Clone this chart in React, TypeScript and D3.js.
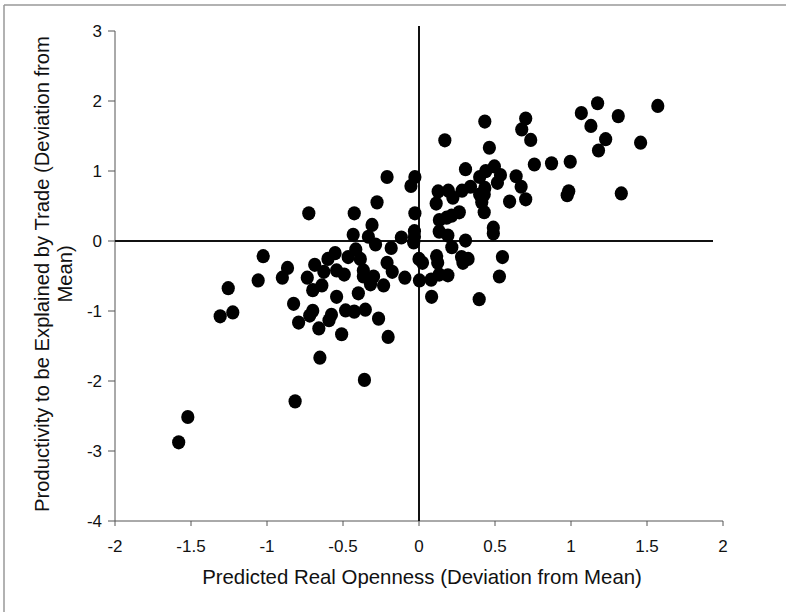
import * as d3 from 'd3';

// Predicted real openness (x) and productivity explained by trade (y), deviations from mean
const openness = [
  1.571, 1.175, 1.068, 1.311, 1.131, 1.228, 1.181, 1.458, 1.331, 0.995,
  0.872, 0.759, 0.702, 0.676, 0.735, 0.433, 0.463, 0.17, 0.985, 0.975,
  0.639, 0.672, 0.702, 0.596, 0.306, 0.496, 0.536, 0.399, 0.439, 0.516,
  0.433, 0.429, 0.339, 0.283, 0.399, 0.413, 0.429, 0.126, 0.193, 0.223,
  0.113, 0.265, 0.215, 0.182, 0.134, 0.133, 0.19, 0.216, 0.306, 0.489,
  0.489, 0.549, 0.529, 0.396, 0.083, 0.003, 0.08, 0.133, 0.19, 0.116,
  0.123, 0.28, 0.323, 0.289, 0.0, 0.023, -0.027, -0.053, -0.027, -0.03,
  -0.03, -0.035, -0.116, -0.093, -0.21, -0.276, -0.309, -0.286, -0.183, -0.433,
  -0.426, -0.725, -0.333, -0.416, -0.466, -0.386, -0.552, -0.599, -0.686, -0.626,
  -0.542, -0.492, -0.366, -0.366, -0.299, -0.319, -0.21, -0.176, -0.233, -1.025,
  -0.865, -0.899, -1.058, -0.735, -0.699, -0.639, -0.542, -0.399, -1.255, -1.225,
  -1.308, -0.825, -0.792, -0.699, -0.719, -0.576, -0.592, -0.659, -0.483, -0.426,
  -0.353, -0.509, -0.266, -0.203, -0.652, -0.359, -0.815, -1.521, -1.581,
];

const productivity = [
  1.929, 1.968, 1.828, 1.784, 1.644, 1.455, 1.293, 1.405, 0.68, 1.132,
  1.109, 1.093, 1.75, 1.594, 1.444, 1.706, 1.332, 1.438, 0.71, 0.655,
  0.925, 0.775, 0.596, 0.563, 1.026, 1.065, 0.942, 0.914, 0.998, 0.831,
  0.758, 0.663, 0.775, 0.719, 0.663, 0.552, 0.412, 0.708, 0.719, 0.619,
  0.535, 0.41, 0.362, 0.333, 0.3, 0.134, 0.078, -0.089, 0.006, 0.19,
  0.106, -0.229, -0.507, -0.831, -0.797, -0.563, -0.552, -0.479, -0.49, -0.217,
  -0.312, -0.229, -0.256, -0.312, -0.256, -0.312, 0.914, 0.786, 0.396, 0.14,
  0.06, -0.02, 0.05, -0.524, 0.914, 0.552, 0.229, -0.05, -0.1, 0.089,
  0.396, 0.396, 0.061, -0.12, -0.229, -0.256, -0.173, -0.256, -0.34, -0.44,
  -0.42, -0.479, -0.42, -0.507, -0.507, -0.619, -0.312, -0.44, -0.635, -0.217,
  -0.385, -0.524, -0.563, -0.524, -0.702, -0.635, -0.797, -0.747, -0.674, -1.02,
  -1.076, -0.897, -1.165, -0.998, -1.065, -1.054, -1.132, -1.249, -0.992, -1.009,
  -0.981, -1.332, -1.109, -1.371, -1.667, -1.984, -2.291, -2.514, -2.876,
];

const xTicks = [-2, -1.5, -1, -0.5, 0, 0.5, 1, 1.5, 2];
const yTicks = [3, 2, 1, 0, -1, -2, -3, -4];

const W = 794;
const H = 612;
const font = '"Liberation Sans", Arial, sans-serif';

export default function App() {
  const x = d3.scaleLinear().domain([-2, 2]).range([115, 723]);
  const y = d3.scaleLinear().domain([-4, 3]).range([521, 31]);
  const points = openness.map((v, i) => [v, productivity[i]]);

  return (
    <svg
      width={W}
      height={H}
      style={{ position: 'absolute', left: 0, top: 0, background: '#fff' }}
    >
      {/* scan frame */}
      <line x1={4} y1={5} x2={786} y2={5} stroke="#999" strokeWidth={1.5} />
      <line x1={4} y1={5} x2={4} y2={H} stroke="#999" strokeWidth={1.5} />

      {/* axes */}
      <line x1={x(-2)} y1={y(3)} x2={x(-2)} y2={y(-4)} stroke="#555" strokeWidth={1} />
      <line x1={x(-2)} y1={y(-4)} x2={x(2)} y2={y(-4)} stroke="#555" strokeWidth={1} />
      {yTicks.map(t => (
        <g key={'y' + t}>
          <line x1={x(-2) - 7} x2={x(-2)} y1={y(t)} y2={y(t)} stroke="#555" />
          <text
            x={x(-2) - 13}
            y={y(t)}
            dy="0.36em"
            textAnchor="end"
            fontFamily={font}
            fontSize={17}
            fill="#111"
          >
            {t}
          </text>
        </g>
      ))}
      {xTicks.map(t => (
        <g key={'x' + t}>
          <line x1={x(t)} x2={x(t)} y1={y(-4)} y2={y(-4) + 5} stroke="#555" />
          <text
            x={x(t)}
            y={552}
            textAnchor="middle"
            fontFamily={font}
            fontSize={17}
            fill="#111"
          >
            {t}
          </text>
        </g>
      ))}

      {/* zero lines */}
      <line x1={x(-2)} y1={y(0)} x2={713} y2={y(0)} stroke="#111" strokeWidth={2} />
      <line x1={x(0)} y1={26} x2={x(0)} y2={y(-4)} stroke="#111" strokeWidth={2} />

      {points.map((p, i) => (
        <ellipse key={i} cx={x(p[0])} cy={y(p[1])} rx={6.6} ry={7.1} fill="#000" />
      ))}

      {/* titles */}
      <text
        x={(x(-2) + x(2)) / 2 + 3}
        y={584}
        textAnchor="middle"
        fontFamily={font}
        fontSize={20.4}
        fill="#111"
      >
        Predicted Real Openness (Deviation from Mean)
      </text>
      <text
        transform={`translate(42,274) rotate(-90)`}
        textAnchor="middle"
        dominantBaseline="central"
        fontFamily={font}
        fontSize={20.2}
        fill="#111"
      >
        Productivity to be Explained by Trade (Deviation from
      </text>
      <text
        transform={`translate(65,274) rotate(-90)`}
        textAnchor="middle"
        dominantBaseline="central"
        fontFamily={font}
        fontSize={20.2}
        fill="#111"
      >
        Mean)
      </text>
    </svg>
  );
}
